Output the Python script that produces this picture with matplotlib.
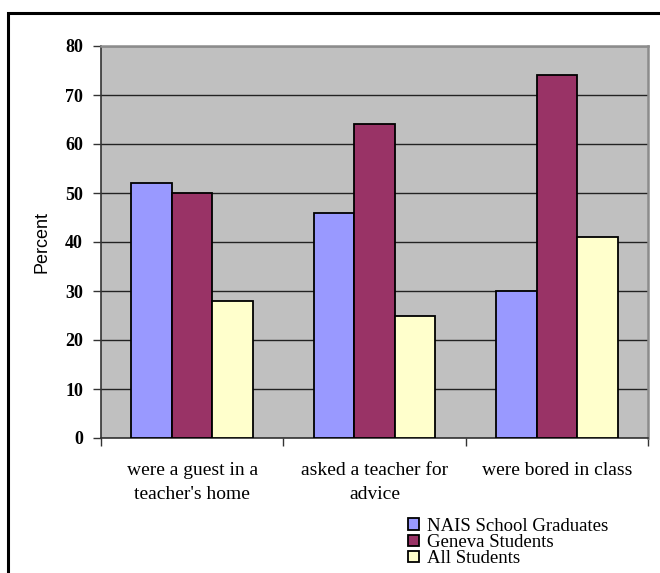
import numpy as np
import matplotlib
matplotlib.use("Agg")
from matplotlib import pyplot as plt
from matplotlib.patches import Rectangle

# survey results, percent of students in each group
categories = ["were a guest in a\nteacher's home", "asked a teacher for\nadvice", "were bored in class"]
series_names = ["NAIS School Graduates", "Geneva Students", "All Students"]
nais = [52, 46, 30]
geneva = [50, 64, 74]
all_students = [28, 25, 41]
colors = ["#9999FF", "#993366", "#FFFFCC"]
y_ticks = [0, 10, 20, 30, 40, 50, 60, 70, 80]

W, H = 660, 573
fig = plt.figure(figsize=(W / 100, H / 100), dpi=100)

# outer chart frame, runs off the right and bottom edges
fig.patches.append(Rectangle((8 / W, -0.1), 1.2, 1 - 13 / H + 0.1, transform=fig.transFigure,
                             fill=False, edgecolor="black", linewidth=2.2))

ax = fig.add_axes([101 / W, 1 - 438 / H, (648 - 101) / W, (438 - 46) / H])
ax.set_facecolor("#C0C0C0")

x = np.arange(len(categories))
width = 0.223
for i, (vals, name) in enumerate(zip([nais, geneva, all_students], series_names)):
    ax.bar(x + (i - 1) * width, vals, width, color=colors[i], edgecolor="black",
           linewidth=1.3, label=name, zorder=3)

ax.set_xlim(-0.5, 2.5)
ax.set_ylim(0, 80)
ax.set_yticks(y_ticks)
ax.yaxis.grid(True, color="#222222", linewidth=1, zorder=1)
ax.set_axisbelow(True)

ax.set_yticklabels([str(v) for v in y_ticks], family="Liberation Serif", fontweight="bold", fontsize=13)
ax.tick_params(axis="y", direction="out", length=6, width=1, color="#333333", pad=7)

# category boundary ticks, labels sit between them
ax.set_xticks([-0.5, 0.5, 1.5, 2.5])
ax.set_xticklabels([])
ax.tick_params(axis="x", direction="out", length=6, width=1, color="#333333")
ax.set_xticks(x, minor=True)
ax.set_xticklabels(categories, minor=True, family="Liberation Serif", fontsize=14, linespacing=1.6)
ax.tick_params(axis="x", which="minor", length=0, pad=17)

for side in ["top", "right"]:
    ax.spines[side].set_color("#8C8C8C")
    ax.spines[side].set_linewidth(1.8)
ax.spines["left"].set_color("#333333")
ax.spines["bottom"].set_color("#333333")
ax.spines["left"].set_linewidth(1.2)
ax.spines["bottom"].set_linewidth(1.2)

ax.set_ylabel("Percent", family="Liberation Sans", fontsize=13)
ax.yaxis.set_label_coords((51 - 101) / (648 - 101), 0.5)

fig.legend(loc="upper left", bbox_to_anchor=(408 / W, 1 - 518 / H), frameon=False,
           prop={"family": "Liberation Serif", "size": 13.5}, handlelength=0.6, handleheight=0.6,
           handletextpad=0.4, labelspacing=-0.05, borderpad=0, borderaxespad=0)

fig.savefig("out.png", dpi=100)
